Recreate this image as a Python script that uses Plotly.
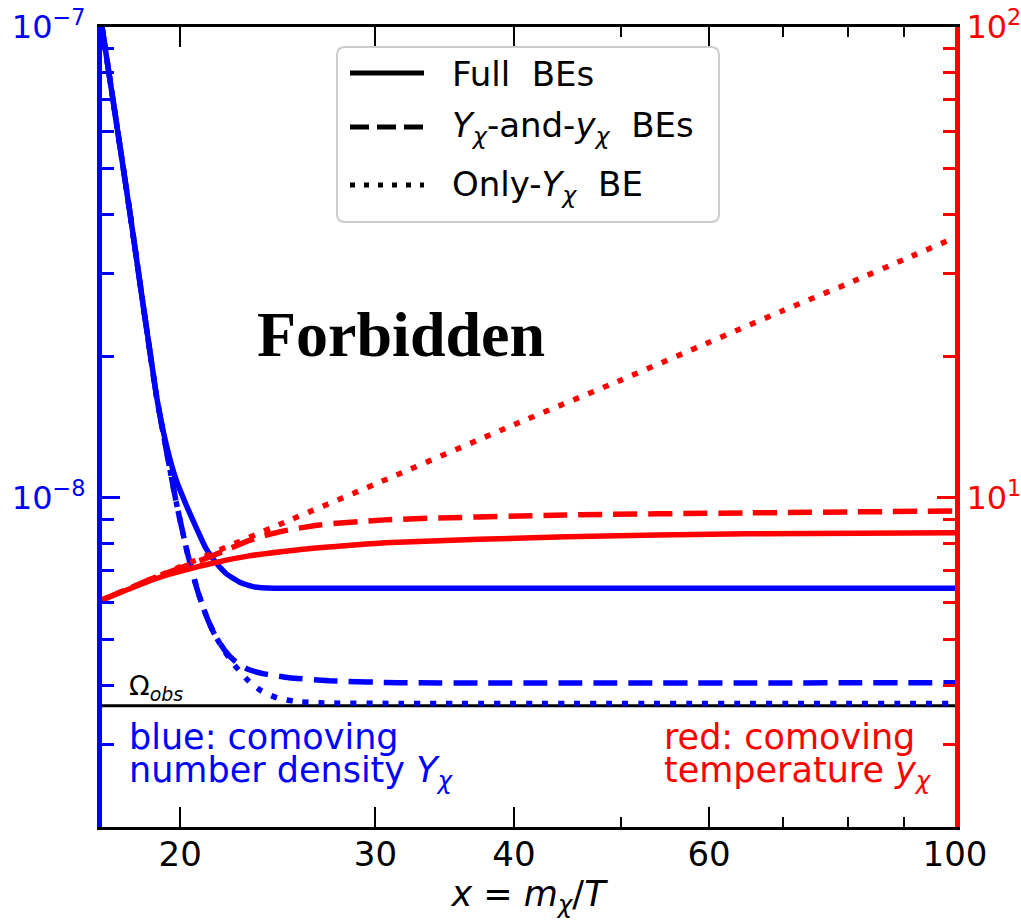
import math
import plotly.graph_objects as go

# ---------------- data ----------------
# blue: comoving number density Y_chi (left axis)
x_Y_full = [17.0, 17.99, 19.03, 19.43, 19.83, 20.25, 20.68, 21.11, 21.55, 22.01, 22.61, 23.32, 24.31, 100.0]
Y_full = [1.0e-7, 4.127e-8, 1.655e-8, 1.296e-8, 1.092e-8, 9.66e-9, 8.64e-9, 7.79e-9, 7.28e-9, 6.90e-9,
          6.63e-9, 6.47e-9, 6.43e-9, 6.43e-9]

x_Y_two = [17.0, 17.99, 19.03, 19.43, 19.83, 20.29, 20.72, 21.11, 21.47, 21.92, 22.38, 22.99, 23.81,
           25.08, 27.26, 31.51, 100.0]
Y_two = [1.0e-7, 4.127e-8, 1.655e-8, 1.264e-8, 9.81e-9, 7.68e-9, 6.38e-9, 5.62e-9, 5.14e-9, 4.755e-9,
         4.51e-9, 4.33e-9, 4.23e-9, 4.15e-9, 4.09e-9, 4.05e-9, 4.05e-9]

x_Y_only = [17.0, 17.99, 19.03, 19.43, 19.83, 20.29, 20.72, 21.11, 21.47, 21.92, 22.38, 22.99, 23.67,
            24.46, 25.34, 26.70, 31.51, 100.0]
Y_only = [1.0e-7, 4.127e-8, 1.655e-8, 1.264e-8, 9.81e-9, 7.68e-9, 6.38e-9, 5.62e-9, 5.14e-9, 4.73e-9,
          4.42e-9, 4.11e-9, 3.89e-9, 3.76e-9, 3.70e-9, 3.67e-9, 3.66e-9, 3.66e-9]

# observed relic abundance line
x_omega = [17.0, 100.0]
Y_omega = [3.62e-9, 3.62e-9]

# red: comoving temperature y_chi (right axis)
x_y_full = [17.0, 19.23, 21.47, 23.08, 25.6, 28.1, 30.6, 44.6, 64.9, 100.0]
y_full = [6.07, 6.80, 7.28, 7.53, 7.76, 7.91, 8.03, 8.27, 8.39, 8.43]

x_y_two = [17.0, 19.23, 20.81, 22.14, 23.08, 24.57, 26.70, 30.6, 44.6, 64.9, 100.0]
y_two = [6.07, 6.86, 7.35, 7.79, 8.12, 8.47, 8.76, 8.98, 9.20, 9.29, 9.38]

x_y_only = [17.0, 20.0, 25.0, 30.0, 40.0, 50.0, 60.0, 70.0, 80.0, 90.0, 100.0]
y_only = [6.07, 7.14, 8.93, 10.7, 14.3, 17.8, 21.4, 25.0, 28.5, 32.1, 35.7]

# ticks
x_tickvals = [20, 30, 40, 60, 100]
x_ticktext = ["20", "30", "40", "60", "100"]
x_minor = [50, 70, 80, 90]
yl_tickvals = [1e-8, 1e-7]
yl_ticktext = ["10<sup>\u22128</sup>", "10<sup>\u22127</sup>"]
yl_minor = [3e-9, 4e-9, 5e-9, 6e-9, 7e-9, 8e-9, 9e-9,
            2e-8, 3e-8, 4e-8, 5e-8, 6e-8, 7e-8, 8e-8, 9e-8]
yr_tickvals = [10, 100]
yr_ticktext = ["10<sup>1</sup>", "10<sup>2</sup>"]
yr_minor = [3, 4, 5, 6, 7, 8, 9, 20, 30, 40, 50, 60, 70, 80, 90]

legend_labels = ["Full\u00a0 BEs",
                 "<i>Y</i><sub><i>\u03c7</i></sub>-and-<i>y</i><sub><i>\u03c7</i></sub>\u00a0 BEs",
                 "Only-<i>Y</i><sub><i>\u03c7</i></sub>\u00a0 BE"]

# ---------------- styling ----------------
BLUE = "#0000ff"
RED = "#ff0000"
FONT = "DejaVu Sans"
W, H = 1021, 924
L, R, T, B = 102, 955, 27, 827   # plot area in pixels
LW = 5.5
DASH = "24px,11px"
DOT = "6px,10px"


def fx(px):
    return (px - L) / (R - L)


def fy(py):
    return (B - py) / (B - T)


fig = go.Figure()

fig.add_trace(go.Scatter(x=x_omega, y=Y_omega, mode="lines", yaxis="y",
                         line=dict(color="black", width=3), showlegend=False))
for xs, ys, dash in [(x_Y_full, Y_full, "solid"), (x_Y_two, Y_two, DASH), (x_Y_only, Y_only, DOT)]:
    fig.add_trace(go.Scatter(x=xs, y=ys, mode="lines", yaxis="y",
                             line=dict(color=BLUE, width=LW, dash=dash, shape="spline", smoothing=0.5),
                             showlegend=False))
for xs, ys, dash in [(x_y_full, y_full, "solid"), (x_y_two, y_two, DASH), (x_y_only, y_only, DOT)]:
    fig.add_trace(go.Scatter(x=xs, y=ys, mode="lines", yaxis="y2",
                             line=dict(color=RED, width=LW, dash=dash, shape="spline", smoothing=0.6),
                             showlegend=False))

# ---------------- legend (drawn by hand, matplotlib-like) ----------------
bx0, bx1, by0, by1, rr = 337, 719, 47, 222, 8


def P(px, py):
    return f"{fx(px):.5f},{fy(py):.5f}"


path = (f"M{P(bx0 + rr, by0)} L{P(bx1 - rr, by0)} Q{P(bx1, by0)} {P(bx1, by0 + rr)} "
        f"L{P(bx1, by1 - rr)} Q{P(bx1, by1)} {P(bx1 - rr, by1)} "
        f"L{P(bx0 + rr, by1)} Q{P(bx0, by1)} {P(bx0, by1 - rr)} "
        f"L{P(bx0, by0 + rr)} Q{P(bx0, by0)} {P(bx0 + rr, by0)} Z")
shapes = [dict(type="path", path=path, xref="paper", yref="paper",
               fillcolor="rgba(255,255,255,0.85)", line=dict(color="#cccccc", width=2), layer="above")]
annotations = []
rows = [73, 127, 185]
for ry, dash, lab in zip(rows, ["solid", "19px,8px", "5px,9px"], legend_labels):
    shapes.append(dict(type="line", xref="paper", yref="paper", x0=fx(350), x1=fx(424),
                       y0=fy(ry), y1=fy(ry), line=dict(color="black", width=5, dash=dash), layer="above"))
    annotations.append(dict(text=lab, xref="paper", yref="paper", x=fx(450), y=fy(ry + 1),
                            xanchor="left", yanchor="middle", showarrow=False,
                            font=dict(family=FONT, size=34, color="black")))

# ---------------- text annotations ----------------
annotations += [
    dict(text="<b>Forbidden</b>", xref="paper", yref="paper", x=fx(401), y=fy(334),
         xanchor="center", yanchor="middle", showarrow=False,
         font=dict(family="Liberation Serif", size=64, color="black")),
    dict(text="\u03a9<sub><i>obs</i></sub>", xref="paper", yref="paper", x=fx(127), y=fy(687),
         xanchor="left", yanchor="middle", showarrow=False,
         font=dict(family=FONT, size=27, color="black")),
    dict(text="blue: comoving", xref="paper", yref="paper", x=fx(127), y=fy(737),
         xanchor="left", yanchor="middle", showarrow=False,
         font=dict(family=FONT, size=35, color=BLUE)),
    dict(text="number density <i>Y</i><sub><i>\u03c7</i></sub>", xref="paper", yref="paper",
         x=fx(127), y=fy(772), xanchor="left", yanchor="middle", showarrow=False,
         font=dict(family=FONT, size=35, color=BLUE)),
    dict(text="red: comoving", xref="paper", yref="paper", x=fx(662), y=fy(737),
         xanchor="left", yanchor="middle", showarrow=False,
         font=dict(family=FONT, size=35, color=RED)),
    dict(text="temperature <i>y</i><sub><i>\u03c7</i></sub>", xref="paper", yref="paper",
         x=fx(662), y=fy(772), xanchor="left", yanchor="middle", showarrow=False,
         font=dict(family=FONT, size=35, color=RED)),
]

fig.update_layout(
    width=W, height=H,
    margin=dict(l=L, r=W - R, t=T, b=H - B, autoexpand=False),
    paper_bgcolor="white", plot_bgcolor="white",
    showlegend=False,
    shapes=shapes, annotations=annotations,
    xaxis=dict(
        type="log", range=[math.log10(17), 2], automargin=False,
        tickmode="array", tickvals=x_tickvals, ticktext=x_ticktext,
        ticks="inside", ticklen=20, tickwidth=2, tickcolor="black",
        showline=True, linecolor="black", linewidth=2.5, mirror="ticks",
        showgrid=False, zeroline=False, ticklabelstandoff=-5,
        tickfont=dict(family=FONT, size=34, color="black"),
        minor=dict(tickmode="array", tickvals=x_minor, ticks="inside", ticklen=10,
                   tickwidth=2, tickcolor="black", showgrid=False),
        title=dict(text="<i>x</i> = <i>m</i><sub><i>\u03c7</i></sub>/<i>T</i>",
                   font=dict(family=FONT, size=35, color="black"), standoff=8),
    ),
    yaxis=dict(
        type="log", range=[math.log10(2e-9), -7], automargin=False,
        tickmode="array", tickvals=yl_tickvals, ticktext=yl_ticktext,
        ticks="inside", ticklen=18, tickwidth=3, tickcolor=BLUE,
        showline=True, linecolor=BLUE, linewidth=5, ticklabelstandoff=5,
        showgrid=False, zeroline=False,
        tickfont=dict(family=FONT, size=32, color=BLUE),
        minor=dict(tickmode="array", tickvals=yl_minor, ticks="inside", ticklen=12,
                   tickwidth=2.5, tickcolor=BLUE, showgrid=False),
    ),
    yaxis2=dict(
        type="log", range=[math.log10(2), 2], overlaying="y", side="right", anchor="x",
        automargin=False,
        tickmode="array", tickvals=yr_tickvals, ticktext=yr_ticktext,
        ticks="inside", ticklen=18, tickwidth=3, tickcolor=RED,
        showline=True, linecolor=RED, linewidth=5,
        showgrid=False, zeroline=False,
        tickfont=dict(family=FONT, size=32, color=RED),
        minor=dict(tickmode="array", tickvals=yr_minor, ticks="inside", ticklen=12,
                   tickwidth=2.5, tickcolor=RED, showgrid=False),
    ),
)

fig.write_html("out.html")
